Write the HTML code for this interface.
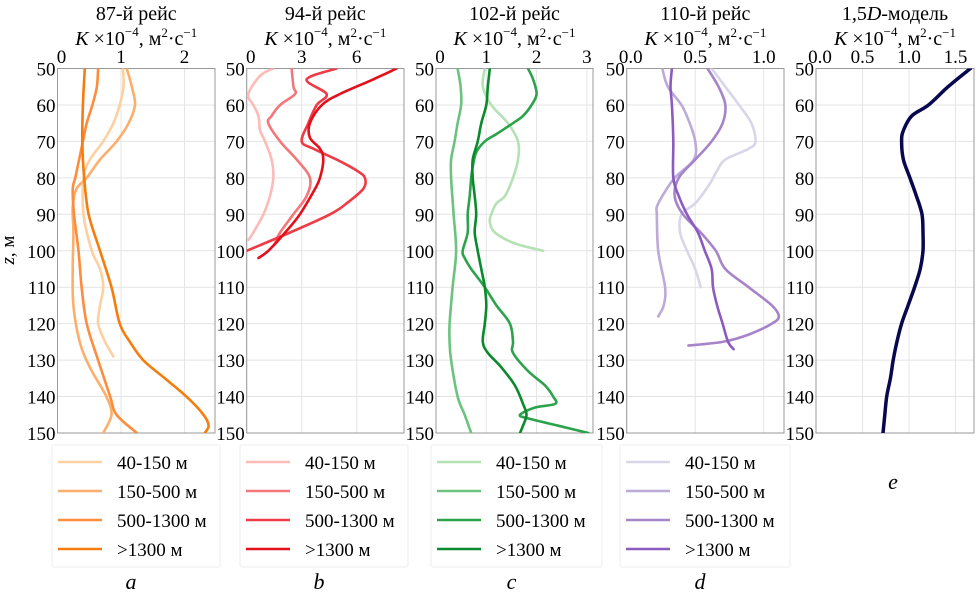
<!DOCTYPE html>
<html><head><meta charset="utf-8">
<style>
html,body{margin:0;padding:0;background:#fff;}
svg{display:block;font-family:"Liberation Serif",serif;}
</style></head>
<body>
<svg id="chart" width="977" height="594" viewBox="0 0 977 594" xmlns="http://www.w3.org/2000/svg"></svg>
<script>
// ===== Data (K ×10^-4 m²/s vs depth z, m) =====
const seriesLabels = ["40-150 м","150-500 м","500-1300 м",">1300 м"];
const panelTitles = ["87-й рейс","94-й рейс","102-й рейс","110-й рейс","1,5D-модель"];
const panelLetters = ["a","b","c","d","e"];
const yTicks = [50,60,70,80,90,100,110,120,130,140,150];
const xTicksA = [0,1,2];
const xTicksB = [0,3,6];
const xTicksC = [0,1,2,3];
const xTicksD = [0,0.5,1.0];
const xTicksE = [0,0.5,1.0,1.5];

// Panel a (87-й рейс)
const zA1 = [50,55,60,65,70,75,80,90,100,105,110,115,120,125,129];
const kA1 = [1.03,1.04,0.98,0.88,0.72,0.51,0.41,0.41,0.54,0.67,0.72,0.67,0.64,0.75,0.88];
const zA2 = [50,55,60,65,70,75,80,83,88,95,105,115,125,132,140,145,150];
const kA2 = [1.09,1.17,1.22,1.12,0.93,0.67,0.46,0.30,0.24,0.25,0.24,0.25,0.35,0.51,0.77,0.85,0.72];
const zA3 = [50,55,60,65,70,75,80,83,90,100,110,120,130,140,145,150];
const kA3 = [0.64,0.62,0.55,0.46,0.40,0.34,0.28,0.24,0.26,0.33,0.38,0.46,0.64,0.83,0.93,1.25];
const zA4 = [50,60,70,80,90,100,110,120,125,130,135,140,145,148,150];
const kA4 = [0.43,0.40,0.39,0.42,0.49,0.67,0.85,0.98,1.14,1.35,1.69,2.03,2.30,2.38,2.32];

// Panel b (94-й рейс)
const zB1 = [50,52,57,60,63,67,70,75,80,85,90,95,97];
const kB1 = [1.45,0.73,0.09,0.36,0.64,0.73,1.0,1.36,1.45,1.27,0.91,0.36,0.10];
const zB2 = [50,55,57,60,63,65,70,75,80,85,90,95,98];
const kB2 = [2.45,2.55,2.64,1.82,1.36,1.18,1.82,2.73,3.45,3.27,2.55,1.82,1.55];
const zB3 = [50,53,57,60,65,70,72,75,78,80,83,87,90,95,100];
const kB3 = [4.9,3.27,4.36,3.82,3.36,3.0,3.64,4.91,6.0,6.45,6.36,5.45,4.55,2.36,0.0];
const zB4 = [50,53,57,60,65,69,72,75,80,83,90,95,100,102];
const kB4 = [8.18,6.9,5.09,4.1,3.45,3.45,4.0,4.18,4.0,3.73,2.9,2.1,1.18,0.64];

// Panel c (102-й рейс)
const zC1 = [50,55,60,65,70,75,80,85,87,90,92,95,98,100];
const kC1 = [0.97,0.93,1.1,1.43,1.63,1.63,1.53,1.37,1.2,1.1,1.07,1.17,1.57,2.13];
const zC2 = [50,55,60,65,70,75,80,90,100,110,120,125,130,140,145,150];
const kC2 = [0.43,0.49,0.5,0.43,0.37,0.3,0.3,0.35,0.4,0.33,0.27,0.27,0.3,0.43,0.57,0.7];
const zC3 = [50,53,57,60,63,65,68,70,73,77,80,85,90,95,100,102,105,110,115,120,125,128,133,137,140,142,143,145,146,148,150];
const kC3 = [1.83,1.93,2.0,1.9,1.73,1.53,1.2,0.97,0.8,0.73,0.7,0.67,0.63,0.63,0.53,0.57,0.7,0.97,1.2,1.47,1.53,1.53,1.83,2.17,2.33,2.37,1.97,1.67,1.83,2.43,3.03];
const zC4 = [50,55,60,65,70,75,80,85,90,95,100,105,110,115,120,125,128,132,137,142,145,148,150];
const kC4 = [1.07,1.03,1.0,0.9,0.83,0.73,0.73,0.77,0.8,0.77,0.83,0.9,0.97,1.0,0.97,0.93,1.03,1.3,1.57,1.73,1.8,1.73,1.67];

// Panel d (110-й рейс)
const zD1 = [50,55,60,65,70,72,75,78,82,87,90,95,100,105,110];
const kD1 = [0.62,0.72,0.82,0.91,0.94,0.89,0.72,0.66,0.6,0.5,0.4,0.39,0.44,0.5,0.54];
const zD2 = [50,55,60,65,70,75,80,85,88,90,100,110,115,118];
const kD2 = [0.26,0.3,0.4,0.46,0.5,0.49,0.35,0.26,0.22,0.22,0.23,0.28,0.27,0.23];
const zD3 = [50,55,60,65,70,75,80,85,90,95,100,105,110,115,118,120,123,125,126];
const kD3 = [0.59,0.67,0.72,0.7,0.62,0.5,0.38,0.35,0.41,0.54,0.65,0.72,0.89,1.06,1.11,1.06,0.89,0.7,0.45];
const zD4 = [50,55,60,70,80,85,90,95,100,105,110,115,120,125,127];
const kD4 = [0.33,0.32,0.33,0.34,0.34,0.38,0.44,0.52,0.57,0.62,0.63,0.66,0.7,0.74,0.78];

// Panel e (1,5D model)
const zE = [50,55,60,63,67,70,75,80,85,90,95,100,105,110,115,120,125,130,135,140,145,150];
const kE = [1.66,1.42,1.21,1.03,0.94,0.92,0.94,1.01,1.08,1.14,1.15,1.15,1.12,1.06,0.99,0.92,0.87,0.83,0.80,0.76,0.74,0.72];

const colA = ["#fdd0a2","#fdae6b","#fd8d3c","#f47d0e"];
const colB = ["#fcbbb9","#f4777b","#ee3b45","#e3101c"];
const colC = ["#b5e2b4","#6cc27f","#2ba24c","#0a8a2c"];
const colD = ["#dad6ea","#bcaad8","#a684c9","#8c5bbf"];

const panels = [
 {x0:57.5, ppu:63.5, right:215, ticks:xTicksA, fmt:v=>String(v), series:[[zA1,kA1],[zA2,kA2],[zA3,kA3],[zA4,kA4]], cols:colA, legX:52, legW:168},
 {x0:246.7, ppu:18.33, right:404, ticks:xTicksB, fmt:v=>String(v), series:[[zB1,kB1],[zB2,kB2],[zB3,kB3],[zB4,kB4]], cols:colB, legX:240, legW:168},
 {x0:436, ppu:50.3, right:593, ticks:xTicksC, fmt:v=>String(v), series:[[zC1,kC1],[zC2,kC2],[zC3,kC3],[zC4,kC4]], cols:colC, legX:431, legW:171},
 {x0:626.7, ppu:137, right:784, ticks:xTicksD, fmt:v=>v.toFixed(1), series:[[zD1,kD1],[zD2,kD2],[zD3,kD3],[zD4,kD4]], cols:colD, legX:620, legW:170},
 {x0:816, ppu:93, right:974, ticks:xTicksE, fmt:v=>v.toFixed(1), series:[[zE,kE]], cols:["#08084f"], legX:null}
];

const Y0 = 68.5, YPPM = 3.645;
function yScale(z){ return Y0 + (z-50)*YPPM; }

const NS = "http://www.w3.org/2000/svg";
const svg = document.getElementById("chart");
function mk(tag, attrs, parent){
  const el = document.createElementNS(NS, tag);
  for (const k in attrs) el.setAttribute(k, attrs[k]);
  (parent||svg).appendChild(el);
  return el;
}
function smoothPath(P){
  let d = "M"+P[0][0].toFixed(1)+","+P[0][1].toFixed(1);
  for (let i=0;i<P.length-1;i++){
    const p0=P[Math.max(0,i-1)], p1=P[i], p2=P[i+1], p3=P[Math.min(P.length-1,i+2)];
    const c1x=p1[0]+(p2[0]-p0[0])/6, c1y=p1[1]+(p2[1]-p0[1])/6;
    const c2x=p2[0]-(p3[0]-p1[0])/6, c2y=p2[1]-(p3[1]-p1[1])/6;
    d += " C"+c1x.toFixed(1)+","+c1y.toFixed(1)+" "+c2x.toFixed(1)+","+c2y.toFixed(1)+" "+p2[0].toFixed(1)+","+p2[1].toFixed(1);
  }
  return d;
}

const yt = mk("text",{x:14,y:250,"font-size":19,"text-anchor":"middle",transform:"rotate(-90 14 250)"});


yt.innerHTML = '<tspan font-style="italic">z</tspan>, м';

panels.forEach((p,pi)=>{
  const xs = v => p.x0 + v*p.ppu;
  const g = mk("g",{});
  
  
  const cx = (p.x0+p.right)/2;
  const t = mk("text",{x:cx,y:20,"font-size":20,"text-anchor":"middle"},g);
  
  
  if (pi===4) t.innerHTML='1,5<tspan font-style="italic">D</tspan>-модель';
  else t.textContent = panelTitles[pi];
  const u = mk("text",{x:cx,y:45,"font-size":20,"text-anchor":"middle"},g);
  
  
  u.innerHTML = '<tspan font-style="italic">K</tspan> ×10<tspan dy="-9" font-size="13">−4</tspan><tspan dy="9">, м</tspan><tspan dy="-8" font-size="13">2</tspan><tspan dy="8">·с</tspan><tspan dy="-8" font-size="13">−1</tspan>';
  yTicks.forEach(z=>{
    const l = mk("line",{x1:p.x0,x2:p.right,y1:yScale(z),y2:yScale(z),stroke:"#e4e4e4","stroke-width":1},g);
    
    
    const tl = mk("text",{x:p.x0-2,y:yScale(z)+7,"font-size":19,"text-anchor":"end"},g);
    
    
    tl.textContent = z;
  });
  p.ticks.forEach(v=>{
    const l = mk("line",{x1:xs(v),x2:xs(v),y1:Y0,y2:yScale(150),stroke:"#e4e4e4","stroke-width":1},g);
    
    
    const tl = mk("text",{x:xs(v)+(v===0?4:0),y:63,"font-size":19,"text-anchor":"middle"},g);
    
    
    tl.textContent = p.fmt(v);
  });
  const fr = mk("rect",{x:p.x0,y:Y0,width:p.right-p.x0,height:yScale(150)-Y0,fill:"none",stroke:"#999","stroke-width":1},g);
  
  
  const cp = mk("clipPath",{id:"cp"+pi},g);
  mk("rect",{x:p.x0,y:Y0,width:p.right-p.x0,height:yScale(150)-Y0},cp);
  p.series.forEach((s,si)=>{
    const P = s[0].map((z,i)=>[xs(s[1][i]), yScale(z)]);
    const pl = mk("path",{d:smoothPath(P),fill:"none",stroke:p.cols[si],"stroke-width":pi===4?3.5:2.6,"stroke-linejoin":"round","stroke-linecap":"round","clip-path":"url(#cp"+pi+")"},g);
    
    
  });
  if (p.legX!==null){
    const lg = mk("g",{},g);
    
    
    mk("rect",{x:p.legX,y:445,width:p.legW,height:122,rx:2,fill:"#fff",stroke:"#eeeeee","stroke-width":1},lg);
    seriesLabels.forEach((lab,si)=>{
      const yy = 462 + si*29;
      const e = mk("g",{},lg);
      
      
      mk("line",{x1:p.legX+6,x2:p.legX+50,y1:yy,y2:yy,stroke:p.cols[si],"stroke-width":2.6},e);
      const tx = mk("text",{x:p.legX+65,y:yy+7,"font-size":19},e);
      tx.textContent = lab;
    });
  }
  const lt = mk("text",{x:pi===4?cx-2:p.legX+p.legW/2-5,y:pi===4?489:589,"font-size":22,"font-style":"italic","text-anchor":"middle"},g);
  
  
  lt.textContent = panelLetters[pi];
});
</script>
</body></html>
